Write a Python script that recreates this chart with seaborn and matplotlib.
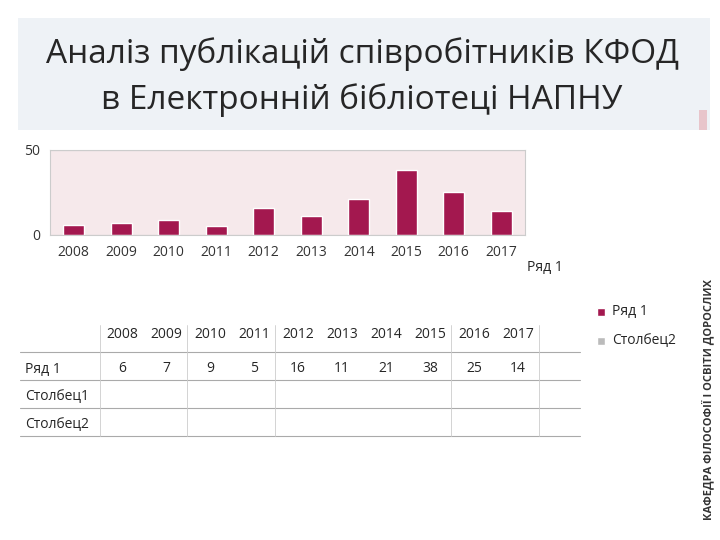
import matplotlib
matplotlib.use('Agg')
import matplotlib.pyplot as plt
import seaborn as sns
import pandas as pd

years = ['2008', '2009', '2010', '2011', '2012', '2013', '2014', '2015', '2016', '2017']
values = [6, 7, 9, 5, 16, 11, 21, 38, 25, 14]
rows = ['Ряд 1', 'Столбец1', 'Столбец2']

sns.set_style('white')
plt.rcParams['font.family'] = ['Open Sans', 'DejaVu Sans']

W, H = 720, 540
fig = plt.figure(figsize=(7.2, 5.4), dpi=100)

def fx(x):
    return x / W

def fy(y):
    return 1 - y / H

# title box
fig.patches.append(plt.Rectangle((fx(18), fy(130)), fx(692), 112 / H, transform=fig.transFigure,
                                 facecolor='#eef2f6', edgecolor='none', zorder=0))
fig.text(fx(362), fy(54), 'Аналіз публікацій співробітників КФОД', ha='center', va='center', fontsize=24)
fig.text(fx(362), fy(100), 'в Електронній бібліотеці НАПНУ', ha='center', va='center', fontsize=24)

# side caption
fig.patches.append(plt.Rectangle((fx(699), fy(130)), fx(8), 20 / H, transform=fig.transFigure,
                                 facecolor='#e8c5cb', edgecolor='none'))
fig.text(fx(708), fy(400), 'КАФЕДРА ФІЛОСОФІЇ І ОСВІТИ ДОРОСЛИХ', rotation=90, ha='center', va='center',
         fontsize=8, fontweight='bold', color='#333333')

# bar chart
ax = fig.add_axes([fx(50), fy(235), fx(475), 85 / H])
df = pd.DataFrame({'year': years, 'value': values})
sns.barplot(data=df, x='year', y='value', color='#a3184f', width=0.45, ax=ax, saturation=1)
ax.set_facecolor('#f6e9eb')
ax.set_ylim(0, 50)
ax.set_yticks([0, 50])
ax.set_xlabel('')
ax.set_ylabel('')
ax.grid(axis='y', color='#bbbbbb', lw=0.8)
ax.tick_params(labelsize=10, colors='#333333')
for s in ax.spines.values():
    s.set_color('#cccccc')
fig.text(fx(545), fy(268), 'Ряд 1', fontsize=10, ha='center', va='center')

# data table
col_x = [122 + 44 * i for i in range(len(years))]
for x, yr in zip(col_x, years):
    fig.text(fx(x), fy(335), yr, ha='center', va='center', fontsize=10)
for x, v in zip(col_x, values):
    fig.text(fx(x), fy(368), str(v), ha='center', va='center', fontsize=10)
for r, y in zip(rows, [370, 397, 425]):
    fig.text(fx(25), fy(y), r, ha='left', va='center', fontsize=10)
for y in [352, 380, 408, 436]:
    fig.add_artist(plt.Line2D([fx(20), fx(580)], [fy(y), fy(y)], color='#aaaaaa', lw=0.8))
for x in [100, 187, 275, 451, 539]:
    fig.add_artist(plt.Line2D([fx(x), fx(x)], [fy(325), fy(436)], color='#cccccc', lw=0.6))

# legend
fig.patches.append(plt.Rectangle((fx(597), fy(316)), fx(8), 8 / H, transform=fig.transFigure,
                                 facecolor='#a3184f'))
fig.text(fx(612), fy(312), 'Ряд 1', fontsize=10, va='center')
fig.patches.append(plt.Rectangle((fx(597), fy(345)), fx(8), 8 / H, transform=fig.transFigure,
                                 facecolor='#bbbbbb'))
fig.text(fx(612), fy(341), 'Столбец2', fontsize=10, va='center')

fig.savefig('out.png', dpi=100)
